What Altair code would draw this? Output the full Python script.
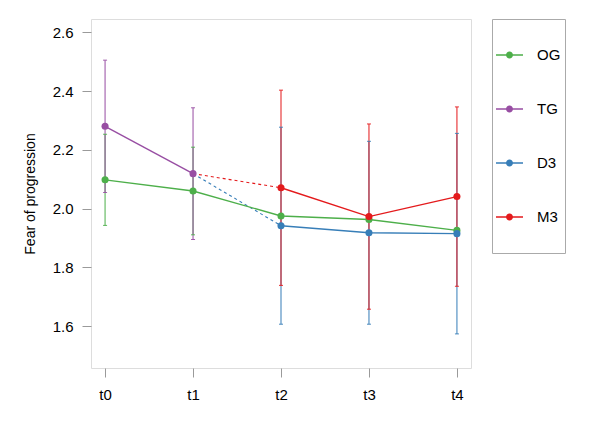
import altair as alt
import pandas as pd

TIMES = ["t0", "t1", "t2", "t3", "t4"]
SERIES = ["OG", "TG", "D3", "M3"]
COLORS = ["#4daf4a", "#984ea3", "#377eb8", "#e41a1c"]

OG_TIMES = ["t0", "t1", "t2", "t3", "t4"]
OG_MEAN = [2.098, 2.060, 1.975, 1.963, 1.926]
OG_ERR_TIMES = ["t0", "t1"]
OG_ERR = [0.155, 0.149]

TG_TIMES = ["t0", "t1"]
TG_MEAN = [2.280, 2.119]
TG_ERR = [0.225, 0.224]

D3_TIMES = ["t2", "t3", "t4"]
D3_MEAN = [1.942, 1.918, 1.915]
D3_ERR = [0.335, 0.311, 0.341]

M3_TIMES = ["t2", "t3", "t4"]
M3_MEAN = [2.071, 1.973, 2.041]
M3_ERR = [0.332, 0.315, 0.305]

FONT = "Liberation Sans"

rows = []
for name, ts, ms in [("OG", OG_TIMES, OG_MEAN), ("TG", TG_TIMES, TG_MEAN),
                     ("D3", D3_TIMES, D3_MEAN), ("M3", M3_TIMES, M3_MEAN)]:
    for t, m in zip(ts, ms):
        rows.append({"series": name, "time": t, "mean": m})
means = pd.DataFrame(rows)

err_rows = []
lookup = {(r["series"], r["time"]): r["mean"] for r in rows}
for name, ts, es in [("OG", OG_ERR_TIMES, OG_ERR), ("TG", TG_TIMES, TG_ERR),
                     ("D3", D3_TIMES, D3_ERR), ("M3", M3_TIMES, M3_ERR)]:
    for t, e in zip(ts, es):
        m = lookup[(name, t)]
        err_rows.append({"series": name, "time": t, "lo": m - e, "hi": m + e})
errs = pd.DataFrame(err_rows)

# dashed bridges from TG at t1 to the first D3 / M3 value
bridge_rows = []
for name, ts, ms in [("D3", D3_TIMES, D3_MEAN), ("M3", M3_TIMES, M3_MEAN)]:
    bridge_rows.append({"series": name, "time": TG_TIMES[-1], "mean": TG_MEAN[-1]})
    bridge_rows.append({"series": name, "time": ts[0], "mean": ms[0]})
bridges = pd.DataFrame(bridge_rows)

xs = alt.Scale(type="point", domain=TIMES, padding=0.16)
ys = alt.Scale(domain=[1.458, 2.645], nice=False, zero=False)
cs = alt.Scale(domain=SERIES, range=COLORS)

x_axis = alt.Axis(title=None, grid=False, domain=False, tickSize=9, tickColor="#9a9a9a",
                  labelPadding=10, labelAngle=0, labelFontSize=15, labelFont=FONT,
                  labelColor="black")
y_axis = alt.Axis(title="Fear of progression", values=[1.6, 1.8, 2.0, 2.2, 2.4, 2.6],
                  format=".1f", grid=False, domain=False, tickSize=9, tickColor="#9a9a9a",
                  labelPadding=9, labelFontSize=15, labelFont=FONT, labelColor="black",
                  titleFontSize=14, titleFont=FONT, titleFontWeight="normal",
                  titleColor="black", titlePadding=15)

SYMBOL = ("M-1,-0.048L1,-0.048L1,0.048L-1,0.048Z "
          "M-0.26,0A0.26,0.26,0,1,1,0.26,0A0.26,0.26,0,1,1,-0.26,0Z "
          "M0,-2.37 M0,2.37")

legend = alt.Legend(title=" ", titleFontSize=12, titlePadding=6.5,
                    orient="none", legendX=401, legendY=0, direction="vertical",
                    symbolType=SYMBOL, symbolSize=729, symbolStrokeWidth=0, symbolOpacity=1,
                    labelFontSize=15, labelFont=FONT, labelColor="black", labelOffset=14,
                    rowPadding=-11, padding=4, strokeColor="#aaaaaa", fillColor="white")

X = alt.X("time:N", scale=xs, axis=x_axis, sort=TIMES)
C = alt.Color("series:N", scale=cs, legend=legend)

bars = alt.Chart(errs).mark_rule(strokeWidth=1.2, opacity=0.85).encode(
    x=X,
    y=alt.Y("lo:Q", scale=ys, axis=y_axis),
    y2="hi:Q",
    color=C,
)
caps_lo = alt.Chart(errs).mark_tick(size=4, thickness=1, opacity=0.9).encode(
    x=X, y=alt.Y("lo:Q", scale=ys), color=C)
caps_hi = alt.Chart(errs).mark_tick(size=4, thickness=1, opacity=0.9).encode(
    x=X, y=alt.Y("hi:Q", scale=ys), color=C)

lines = alt.Chart(means).mark_line(strokeWidth=1.4).encode(
    x=X, y=alt.Y("mean:Q", scale=ys), color=C, detail="series:N",
)
dashed = alt.Chart(bridges).mark_line(strokeWidth=1.1, strokeDash=[3, 3]).encode(
    x=X, y=alt.Y("mean:Q", scale=ys), color=C, detail="series:N",
)

points = alt.Chart(means).mark_point(filled=True, size=50, opacity=1).encode(
    x=X, y=alt.Y("mean:Q", scale=ys), color=C,
)

chart = alt.layer(bars, caps_lo, caps_hi, dashed, lines, points).properties(
    width=380, height=349,
    autosize=alt.AutoSizeParams(type="none"),
    padding={"left": 83, "top": 11, "right": 121, "bottom": 48},
).configure_view(stroke="#aaaaaa", strokeWidth=1).configure(background="white")

chart.save("out.html", embed_options={"renderer": "svg", "actions": False})
